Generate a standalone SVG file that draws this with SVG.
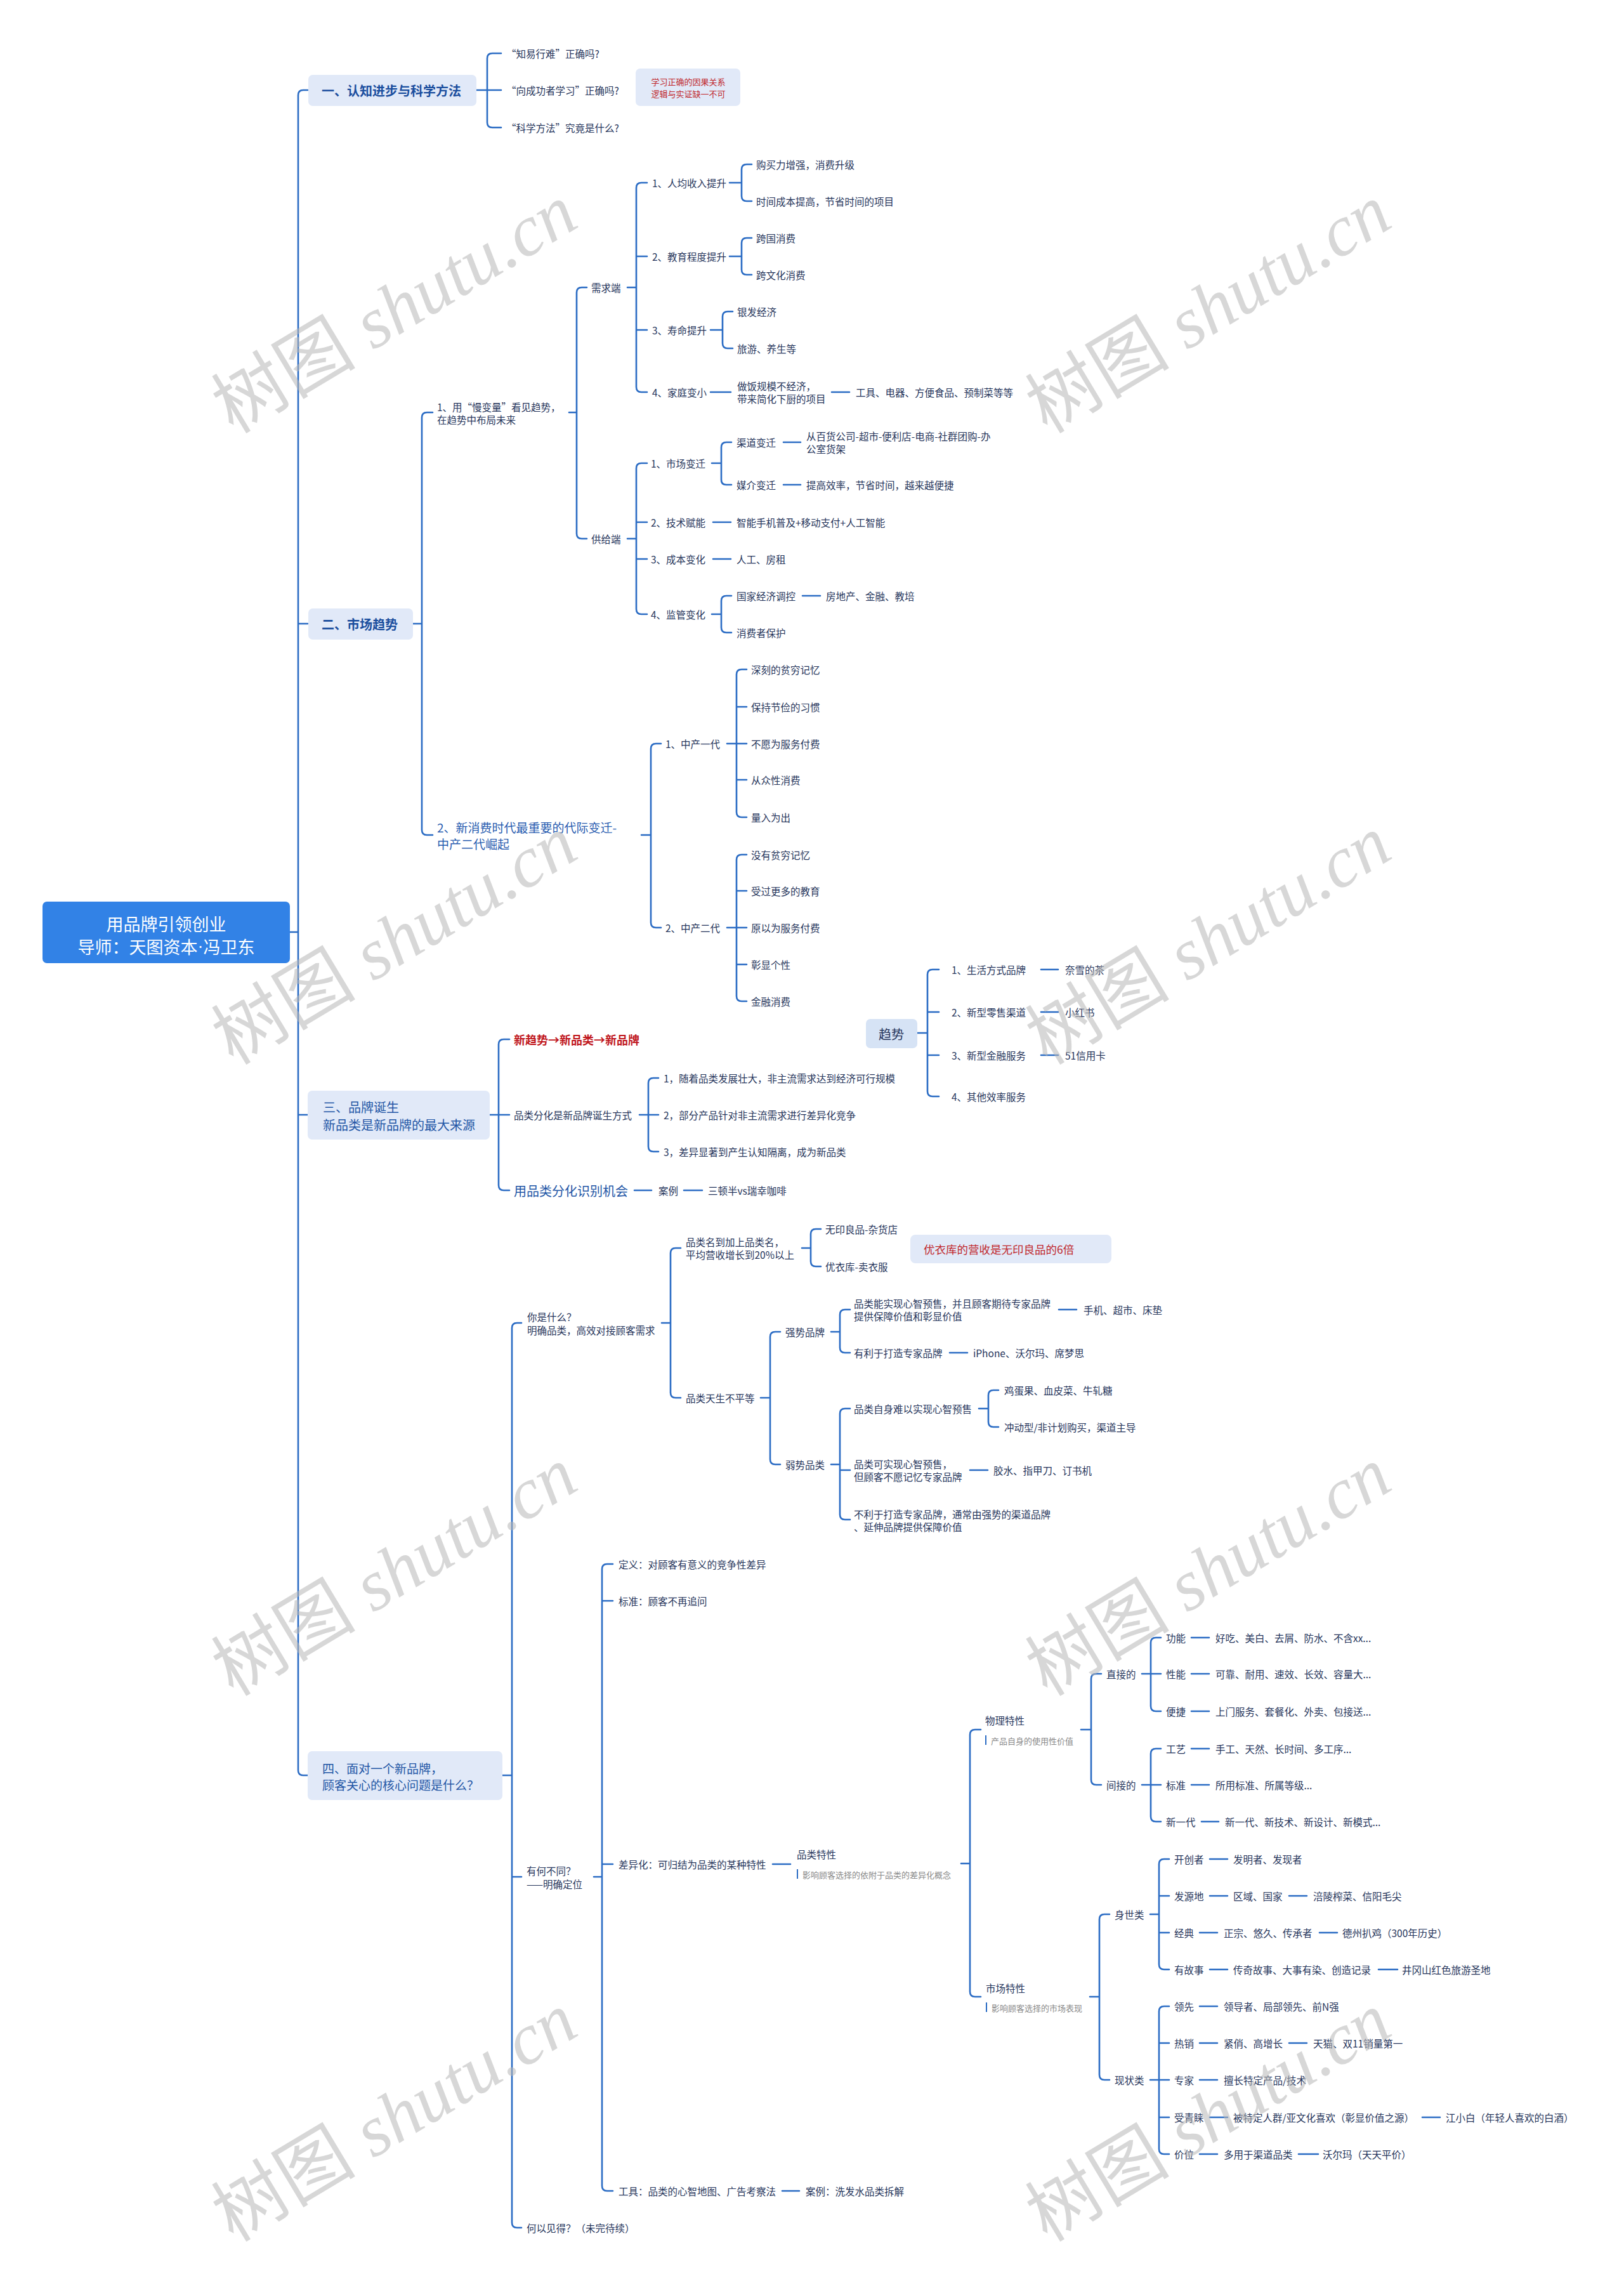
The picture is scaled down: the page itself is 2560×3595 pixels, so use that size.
<svg xmlns="http://www.w3.org/2000/svg" width="2560" height="3595" viewBox="0 0 2560 3595">
<style>
text{font-family:"Noto Sans CJK SC","Noto Sans",sans-serif;dominant-baseline:central}
.t{font-size:15.5px;fill:#27365c}
.s{font-size:13px;fill:#8a8a8a}
.sec{fill:#e1e9f8}
.hb{font-size:20px;font-weight:bold;fill:#1b4e9e}
.hn{font-size:20px;fill:#2457a6}
.c{fill:none;stroke:#2b6cc4;stroke-width:2.6;stroke-linecap:round;stroke-linejoin:round}
.bar{stroke:#2b6cc4;stroke-width:2}
.wm{font-family:"Liberation Serif","Noto Sans CJK SC",serif;font-size:114px;fill:#b8b8b8;opacity:0.55;dominant-baseline:auto}
</style>
<rect width="2560" height="3595" fill="#ffffff"/>
<g id="connectors">
<path class="c" d="M485,142 H478 Q470,142 470,150 V2790 Q470,2798 478,2798 H485 M470,983 H485 M470,1757 H485 M457,1469 H470"/>
<path class="c" d="M790,84 H776 Q768,84 768,92 V193 Q768,201 776,201 H790 M751,142 H790"/>
<path class="c" d="M682,650 H673 Q665,650 665,658 V1308 Q665,1316 673,1316 H682 M651,983 H665"/>
<path class="c" d="M925,453 H917 Q909,453 909,461 V841 Q909,849 917,849 H925 M897,650 H909"/>
<path class="c" d="M1020,288 H1011 Q1003,288 1003,296 V610 Q1003,618 1011,618 H1020 M1003,404 H1020 M1003,520 H1020 M989,453 H1003"/>
<path class="c" d="M1185,259 H1177 Q1169,259 1169,267 V309 Q1169,317 1177,317 H1185 M1150,288 H1169"/>
<path class="c" d="M1185,375 H1177 Q1169,375 1169,383 V425 Q1169,433 1177,433 H1185 M1150,404 H1169"/>
<path class="c" d="M1155,491 H1147 Q1139,491 1139,499 V541 Q1139,549 1147,549 H1155 M1120,520 H1139"/>
<path class="c" d="M1120,618 H1152 M1311,618 H1339"/>
<path class="c" d="M1020,730 H1011 Q1003,730 1003,738 V960 Q1003,968 1011,968 H1020 M1003,823 H1020 M1003,881 H1020 M989,849 H1003"/>
<path class="c" d="M1153,697 H1145 Q1137,697 1137,705 V756 Q1137,764 1145,764 H1153 M1122,730 H1137"/>
<path class="c" d="M1235,697 H1262 M1235,764 H1262 M1124,823 H1152 M1124,881 H1152"/>
<path class="c" d="M1153,939 H1145 Q1137,939 1137,947 V989 Q1137,997 1145,997 H1153 M1122,968 H1137 M1265,939 H1293"/>
<path class="c" d="M1042,1172 H1034 Q1026,1172 1026,1180 V1454 Q1026,1462 1034,1462 H1042 M1011,1316 H1026"/>
<path class="c" d="M1177,1055 H1169 Q1161,1055 1161,1063 V1280 Q1161,1288 1169,1288 H1177 M1161,1114 H1177 M1161,1229 H1177 M1146,1172 H1177"/>
<path class="c" d="M1177,1347 H1169 Q1161,1347 1161,1355 V1570 Q1161,1578 1169,1578 H1177 M1161,1404 H1177 M1161,1520 H1177 M1146,1462 H1177"/>
<path class="c" d="M803,1638 H794 Q786,1638 786,1646 V1868 Q786,1876 794,1876 H803 M772,1757 H803"/>
<path class="c" d="M1038,1699 H1030 Q1022,1699 1022,1707 V1807 Q1022,1815 1030,1815 H1038 M1008,1757 H1038"/>
<path class="c" d="M1000,1876 H1027 M1078,1876 H1107"/>
<path class="c" d="M1480,1528 H1470 Q1462,1528 1462,1536 V1720 Q1462,1728 1470,1728 H1480 M1462,1595 H1480 M1462,1663 H1480 M1446,1628 H1462"/>
<path class="c" d="M1641,1528 H1668 M1641,1595 H1668 M1641,1663 H1668"/>
<path class="c" d="M822,2085 H815 Q807,2085 807,2093 V3503 Q807,3511 815,3511 H822 M807,2958 H822 M792,2798 H807"/>
<path class="c" d="M1073,1967 H1065 Q1057,1967 1057,1975 V2195 Q1057,2203 1065,2203 H1073 M1043,2085 H1057"/>
<path class="c" d="M1294,1937 H1286 Q1278,1937 1278,1945 V1988 Q1278,1996 1286,1996 H1294 M1264,1967 H1278"/>
<path class="c" d="M1230,2099 H1222 Q1214,2099 1214,2107 V2300 Q1214,2308 1222,2308 H1230 M1199,2203 H1214"/>
<path class="c" d="M1340,2064 H1332 Q1324,2064 1324,2072 V2124 Q1324,2132 1332,2132 H1340 M1310,2099 H1324"/>
<path class="c" d="M1669,2064 H1697 M1497,2132 H1525"/>
<path class="c" d="M1340,2220 H1332 Q1324,2220 1324,2228 V2387 Q1324,2395 1332,2395 H1340 M1324,2317 H1340 M1310,2308 H1324"/>
<path class="c" d="M1574,2191 H1566 Q1558,2191 1558,2199 V2241 Q1558,2249 1566,2249 H1574 M1543,2220 H1558 M1529,2317 H1557"/>
<path class="c" d="M966,2465 H957 Q949,2465 949,2473 V3445 Q949,3453 957,3453 H966 M949,2523 H966 M949,2938 H966 M936,2958 H949"/>
<path class="c" d="M1218,2938 H1246 M1233,3453 H1260"/>
<path class="c" d="M1546,2726 H1537 Q1529,2726 1529,2734 V3139 Q1529,3147 1537,3147 H1546 M1515,2937 H1529"/>
<path class="c" d="M1736,2638 H1728 Q1720,2638 1720,2646 V2805 Q1720,2813 1728,2813 H1736 M1704,2726 H1720"/>
<path class="c" d="M1830,2581 H1822 Q1814,2581 1814,2589 V2689 Q1814,2697 1822,2697 H1830 M1800,2638 H1830"/>
<path class="c" d="M1830,2756 H1822 Q1814,2756 1814,2764 V2863 Q1814,2871 1822,2871 H1830 M1800,2813 H1830"/>
<path class="c" d="M1878,2581 H1906 M1878,2638 H1906 M1878,2697 H1906 M1878,2756 H1906 M1878,2813 H1906 M1894,2871 H1921"/>
<path class="c" d="M1749,3017 H1741 Q1733,3017 1733,3025 V3270 Q1733,3278 1741,3278 H1749 M1718,3147 H1733"/>
<path class="c" d="M1843,2930 H1835 Q1827,2930 1827,2938 V3096 Q1827,3104 1835,3104 H1843 M1827,2988 H1843 M1827,3046 H1843 M1813,3017 H1827"/>
<path class="c" d="M1843,3162 H1835 Q1827,3162 1827,3170 V3387 Q1827,3395 1835,3395 H1843 M1827,3220 H1843 M1827,3337 H1843 M1813,3278 H1843"/>
<path class="c" d="M1907,2930 H1935 M1907,2988 H1935 M2032,2988 H2060 M1891,3046 H1919 M2080,3046 H2108 M1907,3104 H1935 M2173,3104 H2203 M1891,3162 H1919 M1891,3220 H1919 M2032,3220 H2060 M1891,3278 H1919 M1907,3337 H1935 M2242,3337 H2270 M1891,3395 H1919 M2047,3395 H2078"/>
</g>
<g id="root"><rect x="67" y="1421" width="390" height="97" rx="7" fill="#3282e6"/>
<text x="262" y="1455" text-anchor="middle" font-size="27" fill="#ffffff">用品牌引领创业</text>
<text x="262" y="1491" text-anchor="middle" font-size="27" fill="#ffffff">导师：天图资本<tspan font-family="Liberation Sans, sans-serif">·</tspan>冯卫东</text></g>
<g id="sec1"><rect class="sec" x="486" y="118" width="265" height="49" rx="7"/><text class="hb" x="507" y="142">一、认知进步与科学方法</text></g>
<g id="s1a"><text class="t" x="798" y="84">“知易行难”正确吗?</text></g>
<g id="s1b"><text class="t" x="798" y="142">“向成功者学习”正确吗?</text></g>
<g id="s1c"><text class="t" x="798" y="201">“科学方法”究竟是什么?</text></g>
<g id="note1"><rect class="sec" x="1002" y="108" width="165" height="59" rx="7"/><text x="1085" y="128" text-anchor="middle" font-size="13" fill="#c0282d">学习正确的因果关系</text><text x="1085" y="147" text-anchor="middle" font-size="13" fill="#c0282d">逻辑与实证缺一不可</text></g>
<g id="sec2"><rect class="sec" x="486" y="959" width="165" height="49" rx="7"/><text class="hb" x="507" y="983">二、市场趋势</text></g>
<g id="n21"><text class="t" x="689" y="641">1、用“慢变量”看见趋势，</text><text class="t" x="689" y="661">在趋势中布局未来</text></g>
<g id="xq"><text class="t" x="932" y="453">需求端</text></g>
<g id="xq1"><text class="t" x="1028" y="288">1、人均收入提升</text></g>
<g id="xq1a"><text class="t" x="1192" y="259">购买力增强，消费升级</text></g>
<g id="xq1b"><text class="t" x="1192" y="317">时间成本提高，节省时间的项目</text></g>
<g id="xq2"><text class="t" x="1028" y="404">2、教育程度提升</text></g>
<g id="xq2a"><text class="t" x="1192" y="375">跨国消费</text></g>
<g id="xq2b"><text class="t" x="1192" y="433">跨文化消费</text></g>
<g id="xq3"><text class="t" x="1028" y="520">3、寿命提升</text></g>
<g id="xq3a"><text class="t" x="1162" y="491">银发经济</text></g>
<g id="xq3b"><text class="t" x="1162" y="549">旅游、养生等</text></g>
<g id="xq4"><text class="t" x="1028" y="618">4、家庭变小</text></g>
<g id="xq4a"><text class="t" x="1162" y="608">做饭规模不经济，</text><text class="t" x="1162" y="628">带来简化下厨的项目</text></g>
<g id="xq4b"><text class="t" x="1349" y="618">工具、电器、方便食品、预制菜等等</text></g>
<g id="gj"><text class="t" x="932" y="849">供给端</text></g>
<g id="gj1"><text class="t" x="1026" y="730">1、市场变迁</text></g>
<g id="gj1a"><text class="t" x="1161" y="697">渠道变迁</text></g>
<g id="gj1a1"><text class="t" x="1271" y="687">从百货公司-超市-便利店-电商-社群团购-办</text><text class="t" x="1271" y="707">公室货架</text></g>
<g id="gj1b"><text class="t" x="1161" y="764">媒介变迁</text></g>
<g id="gj1b1"><text class="t" x="1271" y="764">提高效率，节省时间，越来越便捷</text></g>
<g id="gj2"><text class="t" x="1026" y="823">2、技术赋能</text></g>
<g id="gj2a"><text class="t" x="1161" y="823">智能手机普及+移动支付+人工智能</text></g>
<g id="gj3"><text class="t" x="1026" y="881">3、成本变化</text></g>
<g id="gj3a"><text class="t" x="1161" y="881">人工、房租</text></g>
<g id="gj4"><text class="t" x="1026" y="968">4、监管变化</text></g>
<g id="gj4a"><text class="t" x="1161" y="939">国家经济调控</text></g>
<g id="gj4a1"><text class="t" x="1302" y="939">房地产、金融、教培</text></g>
<g id="gj4b"><text class="t" x="1161" y="997">消费者保护</text></g>
<g id="n22"><text x="689" y="1303" font-size="19" fill="#2a5db0">2、新消费时代最重要的代际变迁-</text><text x="689" y="1329" font-size="19" fill="#2a5db0">中产二代崛起</text></g>
<g id="zc1"><text class="t" x="1049" y="1172">1、中产一代</text></g>
<g id="zc1a"><text class="t" x="1184" y="1055">深刻的贫穷记忆</text></g>
<g id="zc1b"><text class="t" x="1184" y="1114">保持节俭的习惯</text></g>
<g id="zc1c"><text class="t" x="1184" y="1172">不愿为服务付费</text></g>
<g id="zc1d"><text class="t" x="1184" y="1229">从众性消费</text></g>
<g id="zc1e"><text class="t" x="1184" y="1288">量入为出</text></g>
<g id="zc2"><text class="t" x="1049" y="1462">2、中产二代</text></g>
<g id="zc2a"><text class="t" x="1184" y="1347">没有贫穷记忆</text></g>
<g id="zc2b"><text class="t" x="1184" y="1404">受过更多的教育</text></g>
<g id="zc2c"><text class="t" x="1184" y="1462">原以为服务付费</text></g>
<g id="zc2d"><text class="t" x="1184" y="1520">彰显个性</text></g>
<g id="zc2e"><text class="t" x="1184" y="1578">金融消费</text></g>
<g id="trend"><rect x="1365" y="1606" width="81" height="46" rx="7" fill="#d6e3f5"/><text x="1405" y="1629" text-anchor="middle" font-size="20" fill="#27365c">趋势</text></g>
<g id="tr1"><text class="t" x="1500" y="1528">1、生活方式品牌</text><text class="t" x="1679" y="1528">奈雪的茶</text></g>
<g id="tr2"><text class="t" x="1500" y="1595">2、新型零售渠道</text><text class="t" x="1679" y="1595">小红书</text></g>
<g id="tr3"><text class="t" x="1500" y="1663">3、新型金融服务</text><text class="t" x="1679" y="1663">51信用卡</text></g>
<g id="tr4"><text class="t" x="1500" y="1728">4、其他效率服务</text></g>
<g id="sec3"><rect class="sec" x="485" y="1719" width="287" height="77" rx="7"/><text class="hn" x="509" y="1744">三、品牌诞生</text><text class="hn" x="509" y="1772">新品类是新品牌的最大来源</text></g>
<g id="s3a"><text x="810" y="1638" font-size="18" font-weight="bold" fill="#c0171d">新趋势→新品类→新品牌</text></g>
<g id="s3b"><text class="t" x="810" y="1757">品类分化是新品牌诞生方式</text></g>
<g id="s3b1"><text class="t" x="1046" y="1699">1，随着品类发展壮大，非主流需求达到经济可行规模</text></g>
<g id="s3b2"><text class="t" x="1046" y="1757">2，部分产品针对非主流需求进行差异化竞争</text></g>
<g id="s3b3"><text class="t" x="1046" y="1815">3，差异显著到产生认知隔离，成为新品类</text></g>
<g id="s3c"><text x="810" y="1876" font-size="20" fill="#2457a6">用品类分化识别机会</text><text class="t" x="1038" y="1876">案例</text><text class="t" x="1116" y="1876">三顿半vs瑞幸咖啡</text></g>
<g id="sec4"><rect class="sec" x="485" y="2760" width="307" height="77" rx="7"/><text x="508" y="2786" font-size="19" fill="#2457a6">四、面对一个新品牌，</text><text x="508" y="2812" font-size="19" fill="#2457a6">顾客关心的核心问题是什么？</text></g>
<g id="q1"><text class="t" x="831" y="2075">你是什么？</text><text class="t" x="831" y="2096">明确品类，高效对接顾客需求</text></g>
<g id="q1a"><text class="t" x="1081" y="1957">品类名到加上品类名，</text><text class="t" x="1081" y="1977">平均营收增长到20%以上</text></g>
<g id="q1a1"><text class="t" x="1301" y="1937">无印良品-杂货店</text></g>
<g id="q1a2"><text class="t" x="1301" y="1996">优衣库-卖衣服</text></g>
<g id="note2"><rect class="sec" x="1435" y="1946" width="317" height="45" rx="8"/><text x="1456" y="1968" font-size="17.5" fill="#c0282d">优衣库的营收是无印良品的6倍</text></g>
<g id="q1b"><text class="t" x="1081" y="2203">品类天生不平等</text></g>
<g id="qs"><text class="t" x="1238" y="2099">强势品牌</text></g>
<g id="qs1"><text class="t" x="1346" y="2054">品类能实现心智预售，并且顾客期待专家品牌</text><text class="t" x="1346" y="2074">提供保障价值和彰显价值</text><text class="t" x="1708" y="2064">手机、超市、床垫</text></g>
<g id="qs2"><text class="t" x="1346" y="2132">有利于打造专家品牌</text><text class="t" x="1534" y="2132">iPhone、沃尔玛、席梦思</text></g>
<g id="qw"><text class="t" x="1238" y="2308">弱势品类</text></g>
<g id="qw1"><text class="t" x="1346" y="2220">品类自身难以实现心智预售</text></g>
<g id="qw1a"><text class="t" x="1583" y="2191">鸡蛋果、血皮菜、牛轧糖</text></g>
<g id="qw1b"><text class="t" x="1583" y="2249">冲动型/非计划购买，渠道主导</text></g>
<g id="qw2"><text class="t" x="1346" y="2307">品类可实现心智预售，</text><text class="t" x="1346" y="2327">但顾客不愿记忆专家品牌</text><text class="t" x="1566" y="2317">胶水、指甲刀、订书机</text></g>
<g id="qw3"><text class="t" x="1346" y="2386">不利于打造专家品牌，通常由强势的渠道品牌</text><text class="t" x="1346" y="2406">、延伸品牌提供保障价值</text></g>
<g id="q2"><text class="t" x="830" y="2948">有何不同？</text><text class="t" x="830" y="2969">——明确定位</text></g>
<g id="q2a"><text class="t" x="975" y="2465">定义：对顾客有意义的竞争性差异</text></g>
<g id="q2b"><text class="t" x="975" y="2523">标准：顾客不再追问</text></g>
<g id="q2c"><text class="t" x="975" y="2938">差异化：可归结为品类的某种特性</text></g>
<g id="q2d"><text class="t" x="975" y="3453">工具：品类的心智地图、广告考察法</text><text class="t" x="1270" y="3453">案例：洗发水品类拆解</text></g>
<g id="plt"><text class="t" x="1256" y="2922">品类特性</text><line class="bar" x1="1257" y1="2946" x2="1257" y2="2961"/><text class="s" x="1265" y="2954">影响顾客选择的依附于品类的差异化概念</text></g>
<g id="wl"><text class="t" x="1553" y="2711">物理特性</text><line class="bar" x1="1554" y1="2735" x2="1554" y2="2750"/><text class="s" x="1562" y="2743">产品自身的使用性价值</text></g>
<g id="zj"><text class="t" x="1744" y="2638">直接的</text></g>
<g id="zj1"><text class="t" x="1838" y="2581">功能</text><text class="t" x="1916" y="2581">好吃、美白、去屑、防水、不含xx...</text></g>
<g id="zj2"><text class="t" x="1838" y="2638">性能</text><text class="t" x="1916" y="2638">可靠、耐用、速效、长效、容量大...</text></g>
<g id="zj3"><text class="t" x="1838" y="2697">便捷</text><text class="t" x="1916" y="2697">上门服务、套餐化、外卖、包接送...</text></g>
<g id="jj"><text class="t" x="1744" y="2813">间接的</text></g>
<g id="jj1"><text class="t" x="1838" y="2756">工艺</text><text class="t" x="1916" y="2756">手工、天然、长时间、多工序...</text></g>
<g id="jj2"><text class="t" x="1838" y="2813">标准</text><text class="t" x="1916" y="2813">所用标准、所属等级...</text></g>
<g id="jj3"><text class="t" x="1838" y="2871">新一代</text><text class="t" x="1931" y="2871">新一代、新技术、新设计、新模式...</text></g>
<g id="sc"><text class="t" x="1554" y="3133">市场特性</text><line class="bar" x1="1555" y1="3156" x2="1555" y2="3171"/><text class="s" x="1563" y="3164">影响顾客选择的市场表现</text></g>
<g id="ss"><text class="t" x="1757" y="3017">身世类</text></g>
<g id="ss1"><text class="t" x="1851" y="2930">开创者</text><text class="t" x="1944" y="2930">发明者、发现者</text></g>
<g id="ss2"><text class="t" x="1851" y="2988">发源地</text><text class="t" x="1944" y="2988">区域、国家</text><text class="t" x="2070" y="2988">涪陵榨菜、信阳毛尖</text></g>
<g id="ss3"><text class="t" x="1851" y="3046">经典</text><text class="t" x="1929" y="3046">正宗、悠久、传承者</text><text class="t" x="2116" y="3046">德州扒鸡（300年历史）</text></g>
<g id="ss4"><text class="t" x="1851" y="3104">有故事</text><text class="t" x="1944" y="3104">传奇故事、大事有染、创造记录</text><text class="t" x="2210" y="3104">井冈山红色旅游圣地</text></g>
<g id="xz"><text class="t" x="1757" y="3278">现状类</text></g>
<g id="xz1"><text class="t" x="1851" y="3162">领先</text><text class="t" x="1929" y="3162">领导者、局部领先、前N强</text></g>
<g id="xz2"><text class="t" x="1851" y="3220">热销</text><text class="t" x="1929" y="3220">紧俏、高增长</text><text class="t" x="2070" y="3220">天猫、双11销量第一</text></g>
<g id="xz3"><text class="t" x="1851" y="3278">专家</text><text class="t" x="1929" y="3278">擅长特定产品/技术</text></g>
<g id="xz4"><text class="t" x="1851" y="3337">受青睐</text><text class="t" x="1944" y="3337">被特定人群/亚文化喜欢（彰显价值之源）</text><text class="t" x="2279" y="3337">江小白（年轻人喜欢的白酒）</text></g>
<g id="xz5"><text class="t" x="1851" y="3395">价位</text><text class="t" x="1929" y="3395">多用于渠道品类</text><text class="t" x="2085" y="3395">沃尔玛（天天平价）</text></g>
<g id="q3"><text class="t" x="830" y="3511">何以见得？（未完待续）</text></g>
<g id="watermarks">
<text class="wm" transform="translate(642,520) rotate(-31)" text-anchor="middle">树图 <tspan font-style="italic">shutu.cn</tspan></text>
<text class="wm" transform="translate(1925,520) rotate(-31)" text-anchor="middle">树图 <tspan font-style="italic">shutu.cn</tspan></text>
<text class="wm" transform="translate(642,1515) rotate(-31)" text-anchor="middle">树图 <tspan font-style="italic">shutu.cn</tspan></text>
<text class="wm" transform="translate(1925,1515) rotate(-31)" text-anchor="middle">树图 <tspan font-style="italic">shutu.cn</tspan></text>
<text class="wm" transform="translate(642,2510) rotate(-31)" text-anchor="middle">树图 <tspan font-style="italic">shutu.cn</tspan></text>
<text class="wm" transform="translate(1925,2510) rotate(-31)" text-anchor="middle">树图 <tspan font-style="italic">shutu.cn</tspan></text>
<text class="wm" transform="translate(642,3370) rotate(-31)" text-anchor="middle">树图 <tspan font-style="italic">shutu.cn</tspan></text>
<text class="wm" transform="translate(1925,3370) rotate(-31)" text-anchor="middle">树图 <tspan font-style="italic">shutu.cn</tspan></text>
</g>
</svg>
